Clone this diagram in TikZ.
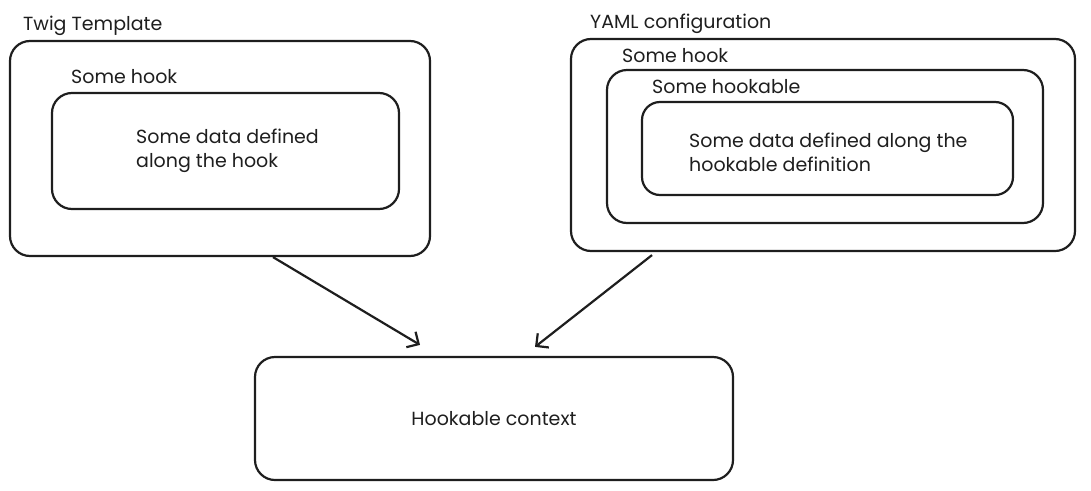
\documentclass[tikz,border=0pt]{standalone}
\usepackage{fontspec}
\setmainfont{Poppins}
\usetikzlibrary{arrows.meta,calc}
\definecolor{ink}{HTML}{1E1E1E}
\newcommand{\skfont}{\fontsize{19}{24}\selectfont}
\tikzset{
  box/.style={draw=ink, line width=2.2pt, rounded corners=20pt, inner sep=0pt},
  lbl/.style={anchor=base west, inner sep=0pt, text=ink, font=\skfont},
  txt/.style={anchor=north west, inner sep=0pt, text=ink, align=left, font=\skfont},
  conn/.style={draw=ink, line width=2.2pt, -{Straight Barb[length=9pt,width=18pt,line width=2.2pt]}}
}
\begin{document}
\begin{tikzpicture}[x=1pt,y=-1pt]
\useasboundingbox (0,0) rectangle (1091,490);
% left group
\node[box, minimum width=420pt, minimum height=215pt] (twig) at (220,148.5) {};
\node[box, minimum width=347pt, minimum height=116pt] (twigdata) at (225.5,151) {};
\node[lbl] (twiglbl) at (23,30) {Twig Template};
\node[lbl] (hooklbl) at (71,83) {Some hook};
\node[txt] (twigtxt) at (136,129) {Some data defined\\along the hook};
% right group
\node[box, minimum width=504pt, minimum height=212pt] (yaml) at (823,145) {};
\node[box, minimum width=436pt, minimum height=153pt] (yhook) at (825,146.5) {};
\node[box, minimum width=371pt, minimum height=93pt, rounded corners=18pt] (yhookable) at (827.5,148.5) {};
\node[lbl] (yamllbl) at (590,28) {YAML configuration};
\node[lbl] (yhooklbl) at (622,62) {Some hook};
\node[lbl] (yhookablelbl) at (652,93) {Some hookable};
\node[txt] (yamltxt) at (689,133) {Some data defined along the\\hookable definition};
% bottom
\node[box, minimum width=478pt, minimum height=123pt] (ctx) at (494,418.5) {};
\node[text=ink, font=\skfont] (ctxtxt) at (ctx.center) {Hookable context};
% connectors
\draw[conn] ($(twig.south)+(53,0)$) -- ($(ctx.north)+(-74,-11)$);
\draw[conn] ($(yaml.south)+(-171,3)$) -- ($(ctx.north)+(41,-9)$);
\end{tikzpicture}
\end{document}
